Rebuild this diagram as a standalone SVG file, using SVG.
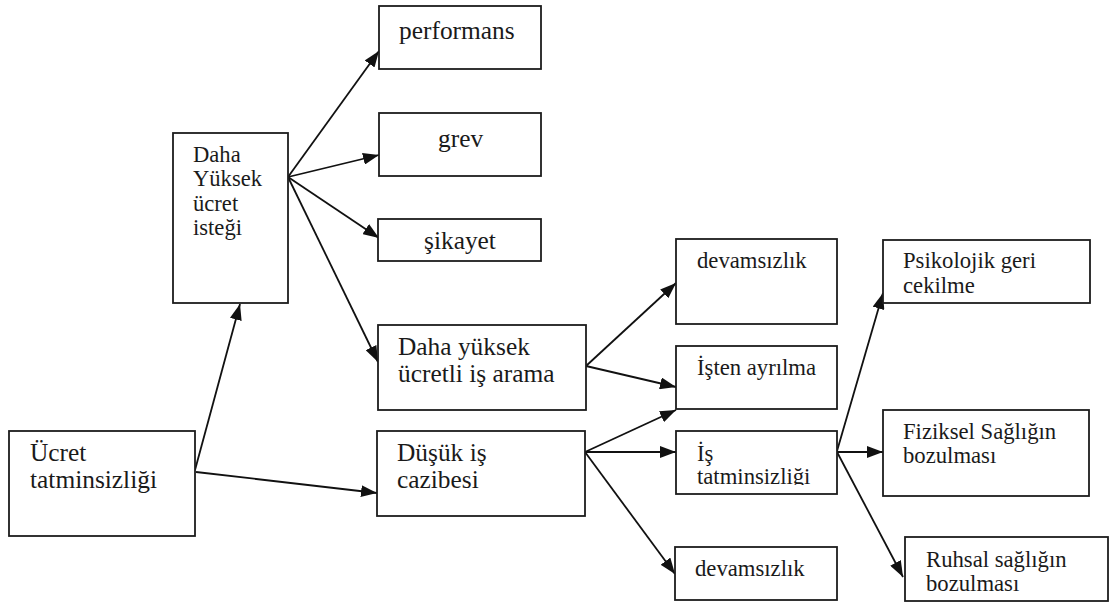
<svg xmlns="http://www.w3.org/2000/svg" width="1111" height="604" viewBox="0 0 1111 604">
<style>
.box{fill:#fff;stroke:#1c1c1c;stroke-width:1.8}
.t{font-family:"Liberation Serif","Times New Roman",serif;fill:#1a1a1a}
.big{font-size:25.4px}
.sm{font-size:22.7px}
.c{fill:none;stroke:#111;stroke-width:1.8}
</style>
<defs>
<marker id="ah" markerUnits="userSpaceOnUse" markerWidth="16" markerHeight="12" refX="16" refY="6" orient="auto">
<path d="M0,0 L16,6 L0,12 z" fill="#111"/>
</marker>
<clipPath id="clipIs"><rect x="676" y="431" width="161" height="54"/></clipPath>
</defs>
<rect width="1111" height="604" fill="#fff"/>
<g id="connectors">
<line class="c" x1="288" y1="177" x2="379" y2="51" marker-end="url(#ah)"/>
<line class="c" x1="288" y1="177" x2="379" y2="155" marker-end="url(#ah)"/>
<line class="c" x1="288" y1="177" x2="379" y2="238" marker-end="url(#ah)"/>
<line class="c" x1="288" y1="177" x2="378" y2="362" marker-end="url(#ah)"/>
<line class="c" x1="195" y1="470" x2="240" y2="304" marker-end="url(#ah)"/>
<line class="c" x1="196" y1="472" x2="377" y2="493" marker-end="url(#ah)"/>
<line class="c" x1="586" y1="366" x2="676" y2="283" marker-end="url(#ah)"/>
<line class="c" x1="586" y1="366" x2="676" y2="387" marker-end="url(#ah)"/>
<line class="c" x1="585" y1="452" x2="676" y2="410" marker-end="url(#ah)"/>
<line class="c" x1="585" y1="452" x2="676" y2="452" marker-end="url(#ah)"/>
<line class="c" x1="585" y1="452" x2="675" y2="574" marker-end="url(#ah)"/>
<line class="c" x1="837" y1="451" x2="883" y2="293" marker-end="url(#ah)"/>
<line class="c" x1="837" y1="452" x2="883" y2="452" marker-end="url(#ah)"/>
<line class="c" x1="837" y1="452" x2="903" y2="577" marker-end="url(#ah)"/>
</g>
<g id="performans"><rect class="box" x="379" y="6" width="162" height="63"/><text class="t big" x="399" y="39">performans</text></g>
<g id="grev"><rect class="box" x="379" y="113" width="162" height="63"/><text class="t big" x="438" y="147">grev</text></g>
<g id="sikayet"><rect class="box" x="378" y="219" width="163" height="42"/><text class="t big" x="424" y="249">şikayet</text></g>
<g id="dahaYuksekUcretIstegi"><rect class="box" x="173" y="133" width="115" height="170"/>
<text class="t" font-size="22.6" x="193" y="162">Daha</text>
<text class="t" font-size="22.6" x="193" y="186">Yüksek</text>
<text class="t" font-size="22.6" x="193" y="211">ücret</text>
<text class="t" font-size="22.6" x="193" y="235">isteği</text></g>
<g id="ucretTatminsizligi"><rect class="box" x="9" y="431" width="186" height="105"/>
<text class="t big" x="30" y="461">Ücret</text>
<text class="t big" x="30" y="488">tatminsizliği</text></g>
<g id="dahaYuksekUcretliIsArama"><rect class="box" x="378" y="325" width="208" height="85"/>
<text class="t big" x="398" y="355">Daha yüksek</text>
<text class="t big" x="398" y="382">ücretli iş arama</text></g>
<g id="dusukIsCazibesi"><rect class="box" x="377" y="431" width="208" height="85"/>
<text class="t big" x="397" y="461">Düşük iş</text>
<text class="t big" x="397" y="488">cazibesi</text></g>
<g id="devamsizlik1"><rect class="box" x="676" y="239" width="161" height="85"/><text class="t sm" x="697" y="268">devamsızlık</text></g>
<g id="istenAyrilma"><rect class="box" x="676" y="346" width="161" height="63"/><text class="t sm" x="697" y="375">İşten ayrılma</text></g>
<g id="isTatminsizligi"><rect class="box" x="676" y="431" width="161" height="63"/>
<g clip-path="url(#clipIs)"><text class="t sm" x="697" y="461">İş</text>
<text class="t sm" x="697" y="484">tatminsizliği</text></g></g>
<g id="devamsizlik2"><rect class="box" x="675" y="547" width="162" height="53"/><text class="t sm" x="695" y="576">devamsızlık</text></g>
<g id="psikolojikGeriCekilme"><rect class="box" x="883" y="240" width="207" height="63"/>
<text class="t sm" x="903" y="268">Psikolojik geri</text>
<text class="t sm" x="903" y="293">cekilme</text></g>
<g id="fizikselSagligin"><rect class="box" x="883" y="410" width="206" height="86"/>
<text class="t sm" x="903" y="439">Fiziksel Sağlığın</text>
<text class="t sm" x="903" y="463">bozulması</text></g>
<g id="ruhsalSagligin"><rect class="box" x="905" y="537" width="203" height="64"/>
<text class="t sm" x="926" y="567">Ruhsal sağlığın</text>
<text class="t sm" x="926" y="591">bozulması</text></g>
</svg>
